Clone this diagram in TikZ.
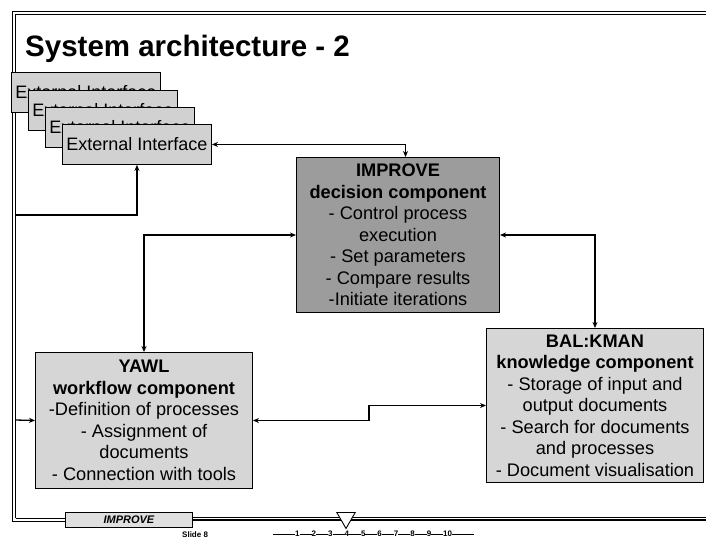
\documentclass[tikz,border=0pt]{standalone}
\usepackage{fontspec}
\setmainfont{Liberation Sans}
\usetikzlibrary{arrows.meta,shapes.geometric}
\tikzset{
  frameline/.style={line width=1pt, black},
  conn/.style={line width=1.3pt, black, {Stealth[length=6pt,width=5pt]}-{Stealth[length=6pt,width=5pt]}},
  oneway/.style={line width=1.3pt, black, -{Stealth[length=6pt,width=5pt]}},
  extbox/.style={draw=black, line width=0.9pt, fill=gray!36, minimum width=149pt, minimum height=40pt, inner sep=0pt, anchor=north west, font=\fontsize{18}{19}\selectfont},
  compbox/.style={draw=black, line width=1pt, inner sep=0pt, anchor=north west, align=center, font=\fontsize{18.2}{21.5}\selectfont},
}
\newcommand{\navrule}[1]{\rule[2pt]{#1}{0.7pt}}
\begin{document}
\begin{tikzpicture}[x=1pt,y=-1pt]
\useasboundingbox (0,0) rectangle (706,538);
\fill[white] (0,0) rectangle (706,538);
% slide frame
\draw[frameline] (706,11) -- (12,11) -- (12,521);
\draw[frameline] (706,14) -- (15.5,14) -- (15.5,518);
\node[draw=black, line width=0.8pt, fill=gray!25, minimum width=127pt, minimum height=15pt, inner sep=0pt, anchor=north west, font=\fontsize{11}{11}\bfseries\itshape\selectfont] (foot) at (65,512) {IMPROVE};
\draw[frameline] (12,521) -- (foot.west |- 0,521);
\draw[frameline] (15.5,518) -- (foot.west |- 0,518);
\draw[line width=1.2pt] (foot.east |- 0,520) -- (706,520);
\draw[line width=0.5pt] (foot.east |- 0,517.5) -- (706,517.5);
\node[draw=black, line width=0.9pt, fill=white, isosceles triangle, shape border rotate=-90, isosceles triangle apex angle=60, minimum height=16pt, inner sep=0pt, anchor=north] (tri) at (346,512) {};
\node[anchor=north west, inner sep=0pt, font=\fontsize{8}{8}\bfseries\selectfont] (slide) at (182,531) {Slide 8};
\node[anchor=north west, inner sep=0pt, font=\fontsize{8}{8}\bfseries\selectfont] (nav) at (273,531)
 {\navrule{22pt}1\navrule{12pt}2\navrule{12pt}3\navrule{12pt}4\navrule{12pt}5\navrule{12pt}6\navrule{12pt}7\navrule{12pt}8\navrule{12pt}9\navrule{12pt}10\navrule{22pt}};
% title
\node[anchor=base west, inner sep=0pt, font=\fontsize{29.5}{30}\bfseries\selectfont] (title) at (25,56) {System architecture - 2};
% external interfaces
\node[extbox] (ext1) at (11,72) {External Interface};
\node[extbox] (ext2) at (28,90) {External Interface};
\node[extbox] (ext3) at (45,107) {External Interface};
\node[extbox] (ext4) at (62,124) {External Interface};
% components
\node[compbox, fill=gray!78, minimum width=203pt, minimum height=155pt] (improve) at (296,157)
 {\textbf{IMPROVE}\\\textbf{decision component}\\- Control process\\execution\\- Set parameters\\- Compare results\\-Initiate iterations};
\node[compbox, fill=gray!32, minimum width=217pt, minimum height=136pt] (yawl) at (35,352)
 {\textbf{YAWL}\\\textbf{workflow component}\\-Definition of processes\\- Assignment of\\documents\\- Connection with tools};
\node[compbox, fill=gray!32, minimum width=217pt, minimum height=154pt] (balkman) at (486,328)
 {\textbf{BAL:KMAN}\\\textbf{knowledge component}\\- Storage of input and\\output documents\\- Search for documents\\and processes\\- Document visualisation};
% connectors
\coordinate (fl1) at (15.5,215);
\coordinate (fl2) at (15.5,420);
\coordinate (imptop) at ([xshift=7.5pt]improve.north);
\draw[conn] (ext4.east) -| (imptop);
\draw[conn] (improve.west) -| (yawl.north);
\draw[conn] (improve.east) -| (balkman.north);
\draw[conn] (yawl.east) -- ++(116,0) |- (balkman.west);
\draw[oneway] (fl1) -| (ext4.south);
\draw[oneway] (fl2) -- (yawl.west);
\end{tikzpicture}
\end{document}
